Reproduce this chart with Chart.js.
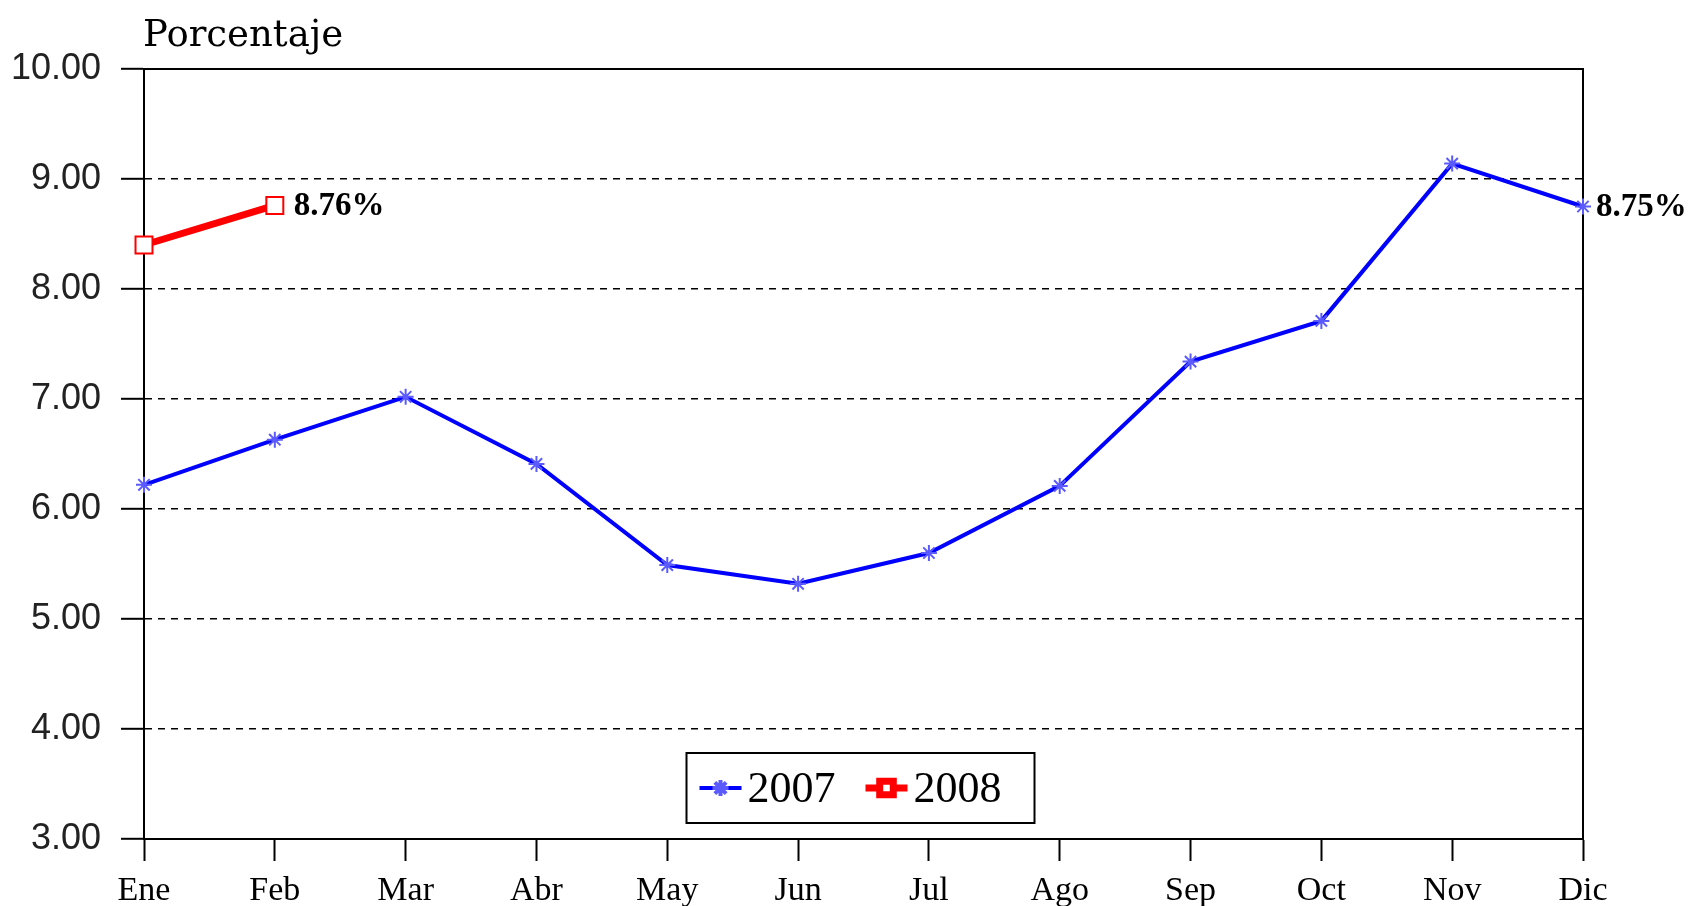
<!DOCTYPE html>
<html>
<head>
<meta charset="utf-8">
<script src="https://cdn.jsdelivr.net/npm/chart.js@4/dist/chart.umd.min.js"></script>
<style>
  html, body { margin: 0; padding: 0; background: #fff; }
  #wrap { width: 1692px; height: 906px; }
</style>
</head>
<body>
<div id="wrap"><canvas id="graph"></canvas></div>
<script>
var meses = ["Ene", "Feb", "Mar", "Abr", "May", "Jun", "Jul", "Ago", "Sep", "Oct", "Nov", "Dic"];
var tasa_2007 = [6.22, 6.63, 7.02, 6.41, 5.49, 5.32, 5.60, 6.21, 7.34, 7.71, 9.14, 8.75];
var tasa_2008 = [8.40, 8.76];
var titulo_eje = "Porcentaje";

// frame, title, end labels and the legend inside the plot
var extras = {
    id: "extras",
    beforeDatasetsDraw: function(chart) {
        var c = chart.ctx, a = chart.chartArea;
        c.save();
        c.strokeStyle = "#000";
        c.lineWidth = 2;
        c.strokeRect(a.left, a.top, a.right - a.left, a.bottom - a.top);
        c.restore();
    },
    afterDraw: function(chart) {
        var c = chart.ctx, a = chart.chartArea;
        c.save();
        c.fillStyle = "#000";
        c.font = "37px 'DejaVu Serif'";
        c.textBaseline = "alphabetic";
        c.textAlign = "left";
        c.fillText(titulo_eje, a.left - 1, 46);

        // value of last point of each serie
        c.font = "bold 33px 'Liberation Serif'";
        c.textBaseline = "middle";
        var offs = [13, 19];
        chart.data.datasets.forEach(function(ds, i) {
            var meta = chart.getDatasetMeta(i);
            var pt = meta.data[meta.data.length - 1];
            var v = ds.data[ds.data.length - 1];
            c.fillText(v.toFixed(2) + "%", pt.x + offs[i], pt.y + 1);
        });

        // legend box
        var bw = 348, bh = 70;
        var bx = (a.left + a.right) / 2 - bw / 2 - 3;
        var by = a.bottom - 16 - bh;
        c.fillStyle = "#fff";
        c.fillRect(bx, by, bw, bh);
        c.strokeStyle = "#000";
        c.lineWidth = 2;
        c.strokeRect(bx, by, bw, bh);
        var cy = by + bh / 2;
        var x = bx + 13;
        c.font = "44px 'Liberation Serif'";
        chart.data.datasets.forEach(function(ds, i) {
            c.strokeStyle = ds.borderColor;
            c.lineWidth = ds.borderWidth;
            c.beginPath();
            c.moveTo(x, cy);
            c.lineTo(x + 42, cy);
            c.stroke();
            c.fillStyle = ds.pointBackgroundColor;
            c.strokeStyle = ds.pointBorderColor;
            Chart.helpers.drawPoint(c, {
                pointStyle: ds.pointStyle,
                radius: i === 0 ? ds.pointRadius : ds.pointRadius * 0.8,
                rotation: 0,
                borderWidth: ds.pointBorderWidth
            }, x + 21, cy);
            c.fillStyle = "#000";
            c.textAlign = "left";
            c.fillText(ds.label, x + 48, cy + 2);
            x += 166;
        });
        c.restore();
    }
};

var ctx = document.getElementById("graph").getContext("2d");

var data = {
    labels: meses,
    datasets: [
        {
            label: "2007",
            data: tasa_2007,
            borderColor: "#0000ff",
            borderWidth: 4,
            pointStyle: "star",
            pointRadius: 8,
            pointBorderWidth: 2,
            pointBorderColor: "#5a5aff",
            pointBackgroundColor: "#5a5aff",
            tension: 0,
            clip: false
        },
        {
            label: "2008",
            data: tasa_2008,
            borderColor: "#ff0000",
            borderWidth: 7,
            pointStyle: "rect",
            pointRadius: 12,
            pointBorderWidth: 2,
            pointBorderColor: "#ff0000",
            pointBackgroundColor: "#ffffff",
            tension: 0,
            clip: false
        }
    ]
};

var options = {
    responsive: true,
    maintainAspectRatio: false,
    animation: false,
    layout: { padding: { top: 69, left: 10, right: 109, bottom: 0 } },
    plugins: {
        legend: { display: false },
        tooltip: { enabled: false }
    },
    scales: {
        x: {
            type: "category",
            offset: false,
            grid: {
                drawOnChartArea: false,
                drawTicks: true,
                tickLength: 22,
                tickWidth: 2,
                tickColor: "#000"
            },
            border: { display: true, color: "#000", width: 2 },
            ticks: {
                color: "#000",
                padding: 10,
                maxRotation: 0,
                autoSkip: false,
                font: { family: "'Liberation Serif'", size: 34 }
            },
            afterFit: function(scale) { scale.height = 67; }
        },
        y: {
            min: 3,
            max: 10,
            grid: {
                color: function(c) {
                    if (c.tick && (c.tick.value === 10 || c.tick.value === 3)) return "rgba(0,0,0,0)";
                    return "#000";
                },
                lineWidth: 1.6,
                tickLength: 23,
                tickWidth: 2,
                tickColor: "#000"
            },
            border: { display: true, color: "#000", width: 2, dash: [7, 6] },
            ticks: {
                stepSize: 1,
                color: "#222",
                padding: 20,
                font: { family: "'Liberation Sans'", size: 36 },
                callback: function(v) { return Number(v).toFixed(2); }
            },
            afterFit: function(scale) { scale.width = 134; }
        }
    }
};

var config = {
    type: "line",
    data: data,
    options: options,
    plugins: [extras]
};

var graph = new Chart(ctx, config);
</script>
</body>
</html>
